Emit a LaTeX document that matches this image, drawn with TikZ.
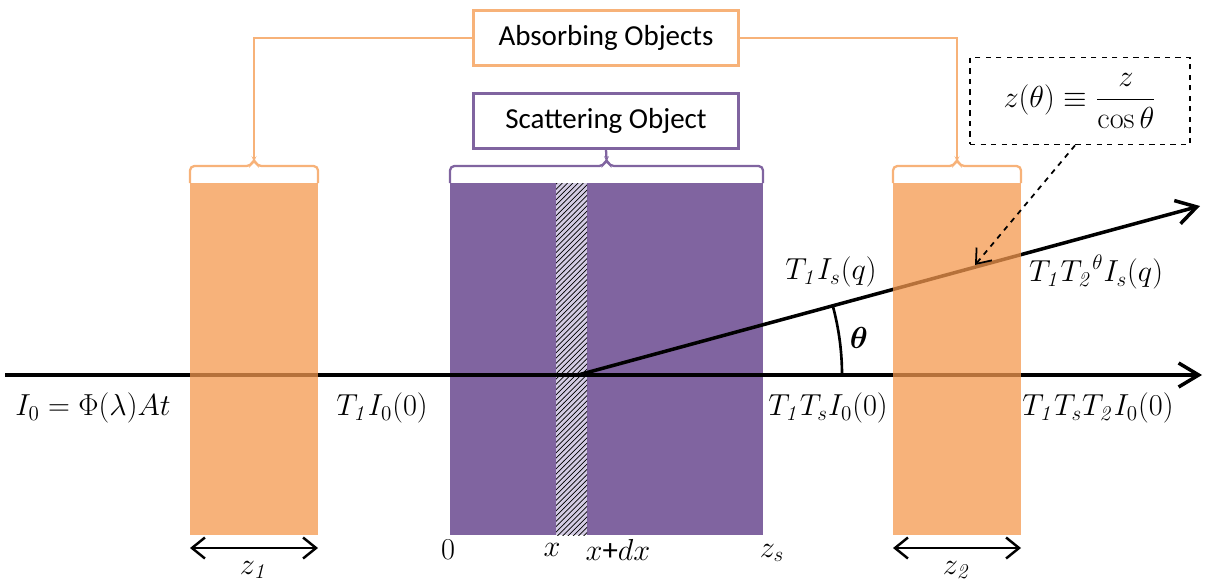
\documentclass[tikz,border=0pt]{standalone}
\usepackage{amsmath}
\usepackage[no-math]{fontspec}
\setmainfont{Carlito}
\usetikzlibrary{arrows.meta,patterns}
\definecolor{slaborange}{RGB}{244,152,78}
\definecolor{lineorange}{RGB}{247,178,121}
\definecolor{slabpurple}{RGB}{128,100,160}
\definecolor{stripgrey}{RGB}{212,204,228}
\newcommand{\one}{\mathit{1}}
\newcommand{\two}{\mathit{2}}
\tikzset{
  labelbox/.style={draw, line width=1.2pt, fill=white, minimum width=5.3cm, minimum height=1.1cm, font=\fontsize{16.5}{19}\selectfont},
  flatbrace/.style={line width=1.3pt, rounded corners=2.5pt},
  beam/.style={line width=2pt, -{Straight Barb[length=4mm,width=4.8mm]}},
  dim/.style={line width=1.4pt, {Straight Barb[length=2.6mm,width=4.2mm]}-{Straight Barb[length=2.6mm,width=4.2mm]}},
  mathlabel/.style={font=\fontsize{17.5}{20}\selectfont},
}
\begin{document}
\begin{tikzpicture}[x=0.02cm, y=-0.02cm]
\useasboundingbox (0,0) rectangle (1213,582);
% scattering slab with thin layer
\fill[slabpurple] (450,183) rectangle (763,535);
\fill[stripgrey] (556,183) rectangle (587,535);
\fill[pattern=north east lines, pattern color=black] (556,183) rectangle (587,535);
% beams
\coordinate (src) at (5,375);
\coordinate (end) at (1202,375);
\coordinate (sc) at (578,375);
\coordinate (out) at (1200,206);
\draw[beam] (src)--(end);
\draw[beam] (sc)--(out);
% absorbing slabs
\fill[slaborange, fill opacity=.75] (190,183) rectangle (318,535);
\fill[slaborange, fill opacity=.75] (893,183) rectangle (1021,535);
% angle
\draw[line width=1.5pt] (842,375) arc[start angle=0, end angle=-15.2, radius=264];
\node[mathlabel] (th) at (859,338) {$\boldsymbol{\theta}$};
% beam labels
\node[mathlabel] (inc) at (93,408) {$I_0=\Phi(\lambda)At$};
\node[mathlabel] (a1) at (382,408) {$T_\one I_0(0)$};
\node[mathlabel] (a2) at (828,408) {$T_\one T_sI_0(0)$};
\node[mathlabel] (a3) at (1098,408) {$T_\one T_sT_\two I_0(0)$};
\node[mathlabel] (s1) at (831,272) {$T_\one I_s(q)$};
\node[mathlabel] (s2) at (1096,272) {$T_\one {T_\two}^{\theta}I_s(q)$};
% bottom scale
\draw[dim] (190,548)--(318,548);
\draw[dim] (893,548)--(1021,548);
\node[mathlabel] (z1) at (254,570) {$z_\one$};
\node[mathlabel] (z2) at (957,570) {$z_\two$};
\node[mathlabel] (p0) at (448,550) {$0$};
\node[mathlabel] (px) at (552,550) {$x$};
\node[mathlabel] (pdx) at (618,550) {$x$+$dx$};
\node[mathlabel] (pzs) at (772,553) {$z_s$};
% braces and boxes
\foreach \l/\r/\c in {190/318/lineorange, 893/1021/lineorange, 450/763/slabpurple}{
  \pgfmathsetmacro{\m}{(\l+\r)/2}
  \draw[flatbrace, \c] (\l,183) -- (\l,166) -- (\m-3,166) -- (\m,159) -- (\m+3,166) -- (\r,166) -- (\r,183);
}
\coordinate (t1) at (254,159);
\coordinate (t2) at (957,159);
\coordinate (ts) at (606.5,159);
\node[labelbox, draw=lineorange] (absorb) at (606,38) {Absorbing Objects};
\node[labelbox, draw=slabpurple] (scatter) at (606,121) {Scattering Object};
\draw[lineorange, line width=1.3pt] (absorb.west) -| (t1);
\draw[lineorange, line width=1.3pt] (absorb.east) -| (t2);
\draw[slabpurple, line width=1.3pt] (scatter.south) -- (ts);
% path length formula
\node[draw, dashed, line width=1pt, minimum width=4.4cm, minimum height=1.74cm, font=\fontsize{18.5}{21}\selectfont] (zth) at (1080,101) {$z(\theta)\equiv\dfrac{z}{\cos\theta}$};
\coordinate (hit) at (975,265);
\draw[dashed, line width=1pt, -{Straight Barb[length=2.6mm,width=4mm]}] ([xshift=-0.1cm]zth.south) -- (hit);
\end{tikzpicture}
\end{document}
